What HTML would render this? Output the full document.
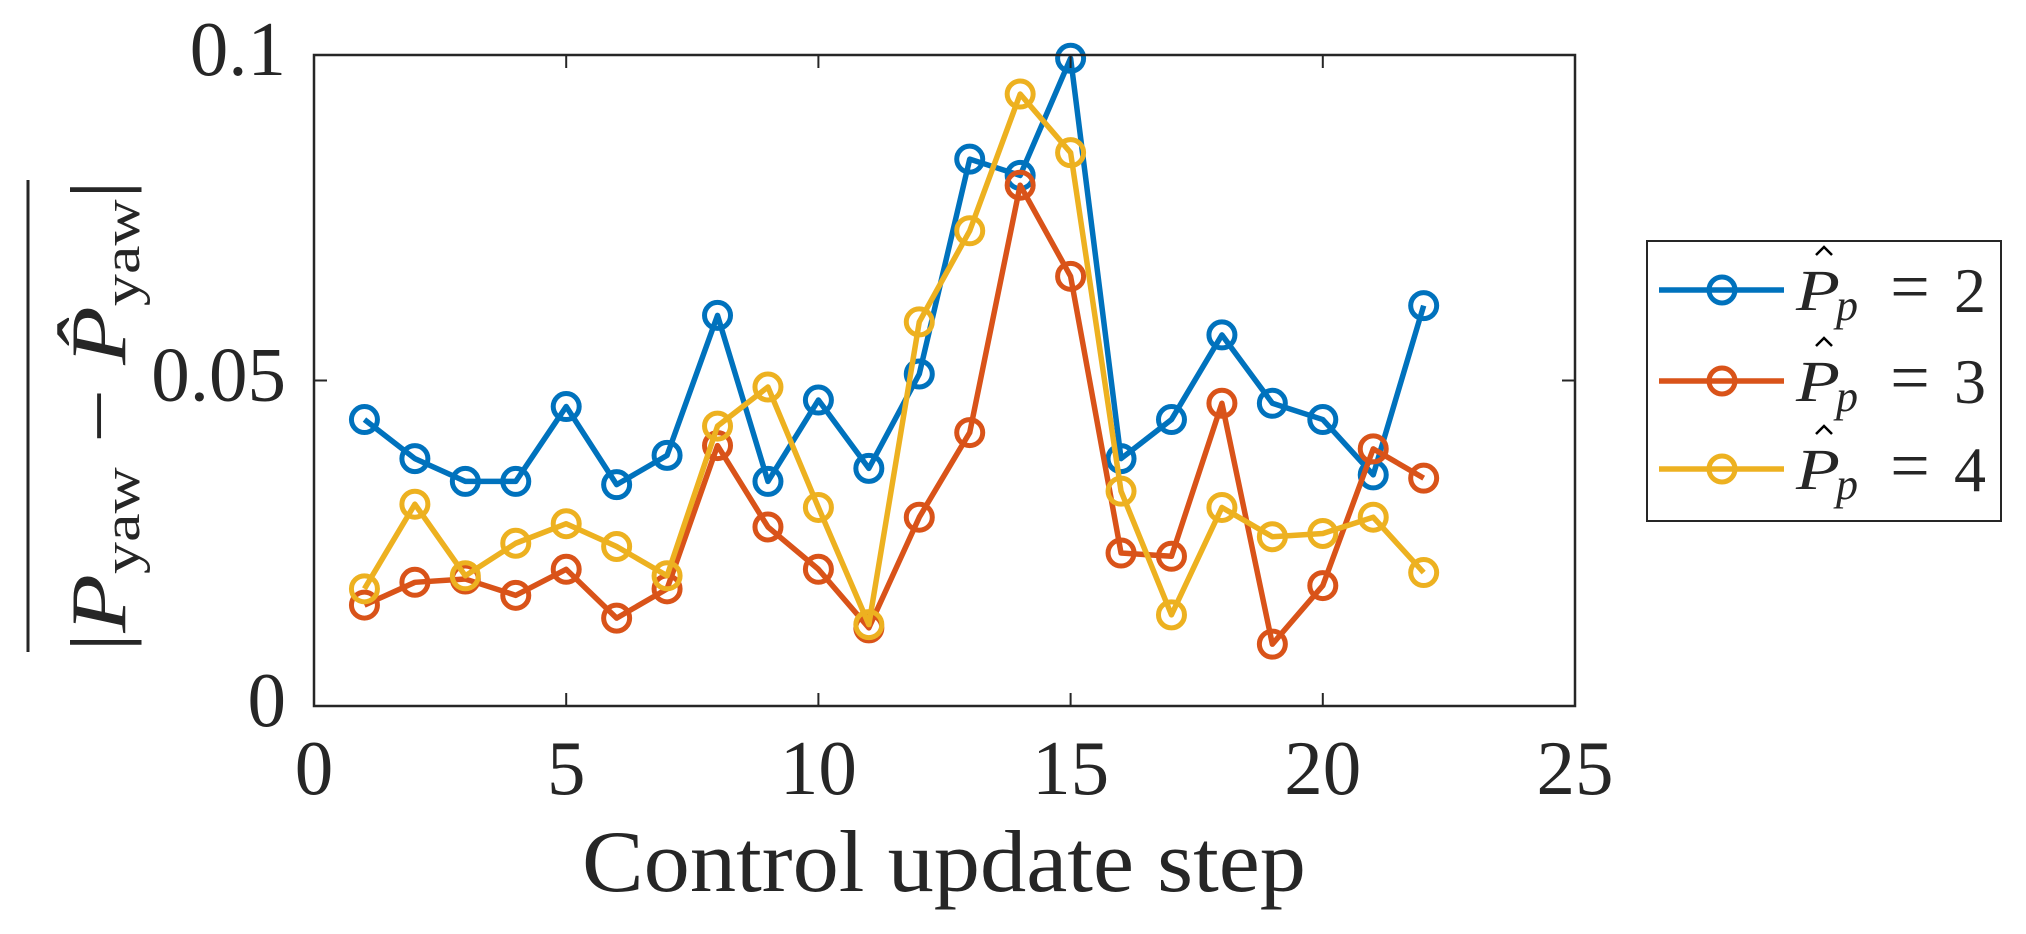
<!DOCTYPE html>
<html><head><meta charset="utf-8">
<style>
html,body{margin:0;padding:0;background:#fff;}
svg{display:block;}
text{font-family:"Liberation Serif",serif;fill:#262626;}
</style></head>
<body>
<svg id="chart" width="2026" height="934" viewBox="0 0 2026 934" xmlns="http://www.w3.org/2000/svg">
<g id="plot"></g>
<g id="axes"></g>
<text x="944" y="891" font-size="88" text-anchor="middle" textLength="724" lengthAdjust="spacingAndGlyphs">Control update step</text>
<g transform="translate(97,416) rotate(-90)">
  <line x1="-236" y1="-69" x2="236" y2="-69" stroke="#262626" stroke-width="3"/>
  <text x="-236" y="28" font-size="78" textLength="472" lengthAdjust="spacingAndGlyphs"><tspan>|</tspan><tspan font-style="italic">P</tspan><tspan font-size="52" dy="14">yaw</tspan><tspan dy="-14"> − </tspan><tspan font-style="italic">P̂</tspan><tspan font-size="52" dy="14">yaw</tspan><tspan dy="-14">|</tspan></text>
</g>
<g>
  <rect x="1647" y="241" width="354" height="280" fill="#fff" stroke="#262626" stroke-width="2"/>
  <g id="legend-items"></g>
</g>
</svg>
<script>
const steps = [1,2,3,4,5,6,7,8,9,10,11,12,13,14,15,16,17,18,19,20,21,22];
const seriesP2 = [0.044,0.038,0.0345,0.0345,0.046,0.034,0.0385,0.060,0.0345,0.047,0.0365,0.051,0.084,0.0815,0.0995,0.038,0.044,0.057,0.0465,0.044,0.0355,0.0615];
const seriesP3 = [0.0155,0.019,0.0195,0.017,0.021,0.0135,0.018,0.040,0.0275,0.021,0.012,0.029,0.042,0.080,0.066,0.0235,0.023,0.0465,0.0095,0.0185,0.0395,0.035];
const seriesP4 = [0.018,0.031,0.020,0.025,0.028,0.0245,0.020,0.043,0.049,0.0305,0.0125,0.059,0.073,0.094,0.085,0.033,0.014,0.0305,0.026,0.0265,0.029,0.0205];
const seriesNames = ["2","3","4"];
const xTicks = [0,5,10,15,20,25];
const yTicks = [0,0.05,0.1];
const yTickLabels = ["0","0.05","0.1"];

const L=314,R=1575,T=55,B=706;
const xs = v => L + (v-0)/(25-0)*(R-L);
const ys = v => B - (v-0)/(0.1-0)*(B-T);
const NS="http://www.w3.org/2000/svg";
function mk(tag,attrs,parent){const e=document.createElementNS(NS,tag);for(const k in attrs)e.setAttribute(k,attrs[k]);parent.appendChild(e);return e;}

const axes=document.getElementById('axes');
const frame=mk('rect',{x:L,y:T,width:R-L,height:B-T,fill:'none',stroke:'#262626','stroke-width':2.5},axes);


xTicks.forEach(t=>{
  const x=xs(t);
  const a=mk('line',{x1:x,y1:B,x2:x,y2:B-13,stroke:'#262626','stroke-width':2},axes);
  
  
  const b=mk('line',{x1:x,y1:T,x2:x,y2:T+13,stroke:'#262626','stroke-width':2},axes);
  
  
  const tx=mk('text',{x:x,y:794,'font-size':77,'text-anchor':'middle'},axes);
  tx.textContent=t;
  
  
});
yTicks.forEach((t,i)=>{
  const y=ys(t);
  const a=mk('line',{x1:L,y1:y,x2:L+13,y2:y,stroke:'#262626','stroke-width':2},axes);
  
  
  const b=mk('line',{x1:R,y1:y,x2:R-13,y2:y,stroke:'#262626','stroke-width':2},axes);
  
  
  const tx=mk('text',{x:286,y:y+20,'font-size':77,'text-anchor':'end'},axes);
  tx.textContent=yTickLabels[i];
  
  
});

const colors=['#0072BD','#D95319','#EDB120'];
const plot=document.getElementById('plot');
[seriesP2,seriesP3,seriesP4].forEach((s,si)=>{
  const g=mk('g',{},plot);
  
  
  const pts=s.map((v,i)=>xs(steps[i])+','+ys(v)).join(' ');
  const pl=mk('polyline',{points:pts,fill:'none',stroke:colors[si],'stroke-width':5.5,'stroke-linejoin':'round'},g);
  
  
  s.forEach((v,i)=>{
    const c=mk('circle',{cx:xs(steps[i]),cy:ys(v),r:13,fill:'none',stroke:colors[si],'stroke-width':5},g);
    
    
  });
});

const leg=document.getElementById('legend-items');
const rowY=[290,381,469];
seriesNames.forEach((n,i)=>{
  const g=mk('g',{},leg);
  
  
  const y=rowY[i];
  mk('line',{x1:1659,y1:y,x2:1784,y2:y,stroke:colors[i],'stroke-width':5.5},g);
  mk('circle',{cx:1722,cy:y,r:13,fill:'none',stroke:colors[i],'stroke-width':5},g);
  const p=mk('text',{x:1796,y:y+20,'font-size':58,'font-style':'italic',fill:'#000',textLength:44,lengthAdjust:'spacingAndGlyphs'},g);
  p.textContent='P';
  mk('polyline',{points:(1816)+','+(y-35)+' '+(1824)+','+(y-43)+' '+(1832)+','+(y-35),fill:'none',stroke:'#000','stroke-width':2.5},g);
  const sub=mk('text',{x:1836,y:y+30,'font-size':44,'font-style':'italic',fill:'#000'},g);
  sub.textContent='p';
  const eq=mk('text',{x:1910,y:y+20,'font-size':70,'text-anchor':'middle',fill:'#000'},g);
  eq.textContent='=';
  const num=mk('text',{x:1970,y:y+22,'font-size':64,'text-anchor':'middle',fill:'#000'},g);
  num.textContent=n;
});
</script>
</body></html>
